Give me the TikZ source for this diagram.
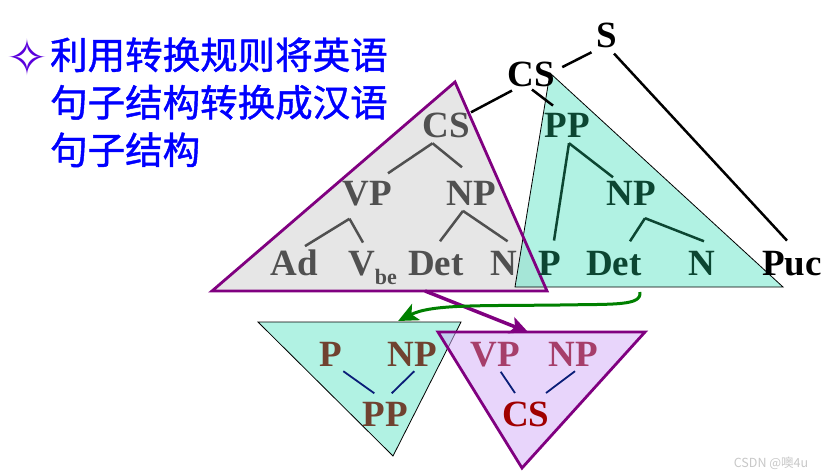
\documentclass[tikz,border=0pt]{standalone}
\usepackage{fontspec}
\setmainfont{Liberation Serif}
\newfontfamily\cjk{Noto Sans CJK SC}
\newfontfamily\cjkmid[FakeBold=1.2]{Noto Sans CJK SC}
\newfontfamily\symfont{DejaVu Sans}
\usetikzlibrary{arrows.meta,calc}
\definecolor{grayfill}{RGB}{230,230,230}
\definecolor{greenbase}{RGB}{101,231,201}
\definecolor{lavbase}{RGB}{211,173,249}
\definecolor{borderpurple}{RGB}{128,0,128}
\definecolor{gtext}{RGB}{80,80,80}
\definecolor{grtext}{RGB}{12,70,50}
\definecolor{browntext}{RGB}{112,66,48}
\definecolor{mauvetext}{RGB}{166,62,106}
\definecolor{redtext}{RGB}{160,0,0}
\definecolor{navyline}{RGB}{10,30,120}
\definecolor{arrowgreen}{RGB}{0,128,0}
\definecolor{bulletcol}{RGB}{90,0,220}
\definecolor{wmgray}{RGB}{200,200,200}
\begin{document}
\begin{tikzpicture}[x=1pt,y=-1pt,
  lbl/.style={font=\fontsize{37}{37}\selectfont\bfseries, inner sep=0pt, anchor=base},
  graylbl/.style={lbl, text=gtext},
  greenlbl/.style={lbl, text=grtext},
  blacklbl/.style={lbl, text=black},
  brownlbl/.style={lbl, text=browntext},
  mauvelbl/.style={lbl, text=mauvetext},
  redlbl/.style={lbl, text=redtext},
  cjktxt/.style={font=\cjkmid\fontsize{37.5}{37.5}\selectfont, text=blue, inner sep=0pt, anchor=base west},
  grayedge/.style={draw=gtext, line width=2.5pt},
  greenedge/.style={draw=grtext, line width=2.5pt},
  blackedge/.style={draw=black, line width=2.5pt},
  navyedge/.style={draw=navyline, line width=1.8pt},
  greentri/.style={fill=greenbase, fill opacity=0.5, draw=black, draw opacity=1, line width=0.8pt},
  lavtri/.style={fill=lavbase, fill opacity=0.5},
  purpleborder/.style={draw=borderpurple, line width=2.8pt, line join=miter},
]
\useasboundingbox (0,0) rectangle (828,474);
\fill[white] (0,0) rectangle (828,474);

% triangle corners
\coordinate (ga) at (455,82);
\coordinate (gl) at (212,291);
\coordinate (gr) at (547,291);
\coordinate (ta) at (550,73);
\coordinate (tl) at (515,287);
\coordinate (tr) at (783,287);
\coordinate (ba1) at (258,322);
\coordinate (ba2) at (461,322);
\coordinate (ba3) at (393,456);
\coordinate (pa1) at (438,332);
\coordinate (pa2) at (645,332);
\coordinate (pa3) at (522,468);

% upper triangles
\fill[grayfill] (ga) -- (gl) -- (gr) -- cycle;
\path[greentri] (ta) -- (tl) -- (tr) -- cycle;
\draw[purpleborder] (ga) -- (gl) -- (gr) -- cycle;

% lower triangles
\path[greentri] (ba1) -- (ba2) -- (ba3) -- cycle;
\path[lavtri] (pa1) -- (pa2) -- (pa3) -- cycle;
\draw[purpleborder] (pa1) -- (pa2) -- (pa3) -- cycle;

% title text
\node[text=bulletcol, font=\symfont\fontsize{50}{50}\selectfont, inner sep=0pt] (bul) at (27,57) {✧};
\node[cjktxt] (l1) at (50,69) {利用转换规则将英语};
\node[cjktxt] (l2) at (50,116.5) {句子结构转换成汉语};
\node[cjktxt] (l3) at (50,164) {句子结构};

% black tree
\node[blacklbl] (bs) at (606.5,47) {S};
\node[blacklbl] (bcs) at (531,86) {CS};
\node[blacklbl] (puc) at (792,275) {Puc};

% gray tree
\node[graylbl] (gcs) at (446,137) {CS};
\node[graylbl] (gvp) at (367.5,205) {VP};
\node[graylbl] (gnp) at (471.5,205) {NP};
\node[graylbl] (gad) at (294.5,275) {Ad};
\node[graylbl, anchor=base west] (gv) at (348,275) {V\raisebox{-9pt}{\fontsize{22}{22}\selectfont be}};
\node[graylbl] (gdet) at (436,275) {Det};
\node[graylbl] (gn) at (504,275) {N};

% green tree
\node[greenlbl] (pp) at (567,137) {PP};
\node[greenlbl] (tnp) at (631,205) {NP};
\node[greenlbl] (tp) at (549.5,275) {P};
\node[greenlbl] (tdet) at (614,275) {Det};
\node[greenlbl] (tn) at (701.5,275) {N};

% black edges
\draw[blackedge] ($(bs.south)+(-15,4.7)$) -- ($(bcs.east)+(7.4,-6.8)$);
\draw[blackedge] ($(bs.south)+(7.5,6)$) -- ($(puc.north)+(-5,-10)$);
\draw[blackedge] ($(bcs.south)+(-19,4)$) -- ($(gcs.north)+(25,0)$);
\draw[blackedge] ($(bcs.south)+(1,3)$) -- ($(pp.north)+(-14,-7)$);

% gray edges
\draw[grayedge] ($(gcs.south)+(-13.5,5.7)$) -- ($(gvp.north)+(20.5,-7.3)$);
\draw[grayedge] ($(gcs.south)+(-13.5,5.7)$) -- ($(gnp.north)+(-9.5,-13.3)$);
\draw[grayedge] ($(gvp.south)+(-18,13)$) -- ($(gad.north)+(10.5,-3)$);
\draw[grayedge] ($(gvp.south)+(-18,13)$) -- ($(gv.north west)+(15,-8)$);
\draw[grayedge] ($(gnp.south)+(-8.5,5.7)$) -- ($(gdet.north)+(4,-9.3)$);
\draw[grayedge] ($(gnp.south)+(-8.5,5.7)$) -- ($(gn.north)+(3.6,-9.3)$);

% green edges
\draw[greenedge] ($(pp.south)+(2,6)$) -- ($(tp.north)+(4.5,-10)$);
\draw[greenedge] ($(pp.south)+(2,6)$) -- ($(tnp.north)+(-18,-3.3)$);
\draw[greenedge] ($(tnp.south)+(14,13)$) -- ($(tdet.north)+(16,-9.3)$);
\draw[greenedge] ($(tnp.south)+(14,13)$) -- ($(tn.north)+(2.5,-9.3)$);

% lower left triangle
\node[brownlbl] (bp) at (331,366.7) {P};
\node[brownlbl] (bnp) at (412.5,366.7) {NP};
\node[brownlbl] (bpp) at (385.5,426.7) {PP};
\draw[navyedge] ($(bp.south)+(12.3,4.3)$) -- ($(bpp.north)+(-11.2,-9)$);
\draw[navyedge] ($(bnp.south)+(1.8,4.3)$) -- ($(bpp.north)+(6.2,-9)$);

% lower right triangle
\node[mauvelbl] (mvp) at (495,366.7) {VP};
\node[mauvelbl] (mnp) at (573,366.7) {NP};
\node[redlbl] (mcs) at (525.7,426.7) {CS};
\draw[navyedge] ($(mvp.south)+(5.7,4.3)$) -- ($(mcs.north)+(-10.7,-9)$);
\draw[navyedge] ($(mnp.south)+(2,4.3)$) -- ($(mcs.north)+(20.3,-9)$);

% arrows
\draw[draw=borderpurple, line width=3.5pt, -{Stealth[length=18pt,width=17pt,inset=4pt]}]
  ($(gl)!0.636!(gr)$) -- ($(pa1)!0.435!(pa2)$);
\draw[draw=arrowgreen, line width=3pt, -{Stealth[length=20pt,width=18pt,inset=5pt]}]
  ($(tl)!0.466!(tr)+(0,5)$) .. controls (642,306) and (615,304) .. (560,305)
  .. controls (480,306) and (432,304) .. ($(ba1)!0.69!(ba2)+(0,-1)$);

% watermark
\node[font=\cjk\fontsize{12.5}{12.5}\selectfont, text=wmgray, inner sep=0pt] (wm) at (771,463) {CSDN @噢4u};
\end{tikzpicture}
\end{document}
